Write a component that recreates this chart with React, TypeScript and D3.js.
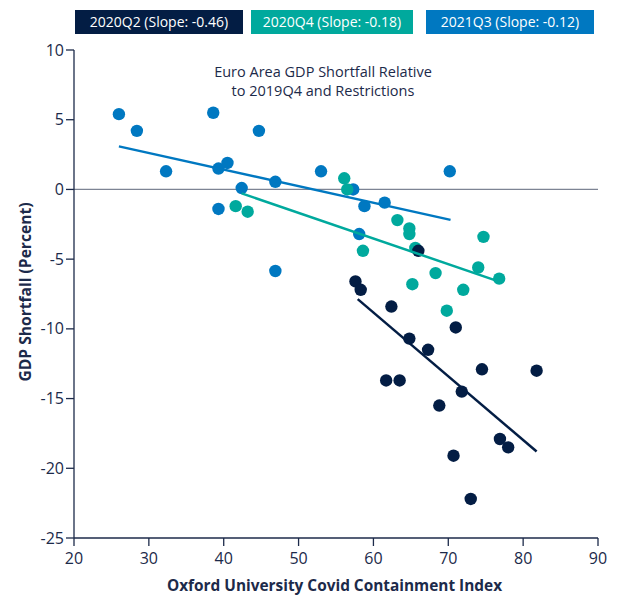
import React from "react";
import * as d3 from "d3";

const seriesNames = ["2020Q2", "2020Q4", "2021Q3"];
const seriesSlopes = [-0.46, -0.18, -0.12];
const seriesColors = ["#031d44", "#00a99d", "#0078c1"];

// 2020Q2 points [containment index, GDP shortfall]
const q2x = [57.6, 58.3, 66.0, 62.4, 71.0, 64.8, 67.3, 74.5, 81.8, 61.7, 63.5, 71.8, 68.8, 76.9, 78.0, 70.7, 73.0];
const q2y = [-6.6, -7.2, -4.4, -8.4, -9.9, -10.7, -11.5, -12.9, -13.0, -13.7, -13.7, -14.5, -15.5, -17.9, -18.5, -19.1, -22.2];
// 2020Q4
const q4x = [41.6, 43.2, 56.1, 56.5, 63.2, 64.8, 64.8, 58.6, 74.7, 65.6, 68.3, 74.0, 76.8, 65.2, 72.0, 69.8];
const q4y = [-1.2, -1.6, 0.8, 0.0, -2.2, -2.8, -3.2, -4.4, -3.4, -4.2, -6.0, -5.6, -6.4, -6.8, -7.2, -8.7];
// 2021Q3
const q3x = [26.0, 28.4, 32.3, 38.6, 39.3, 40.5, 39.3, 42.4, 44.7, 46.9, 46.9, 53.0, 57.3, 58.8, 61.5, 58.1, 70.2];
const q3y = [5.4, 4.2, 1.3, 5.5, 1.5, 1.9, -1.4, 0.1, 4.2, 0.55, -5.85, 1.3, 0.0, -1.2, -0.95, -3.2, 1.3];

// fitted lines: intercept, slope, x range
const fitIntercepts = [18.59, 7.52, 6.18];
const fitSlopes = [-0.457, -0.184, -0.119];
const fitXMin = [57.9, 42.4, 26.0];
const fitXMax = [81.8, 76.8, 70.3];

const xTicks = [20, 30, 40, 50, 60, 70, 80, 90];
const yTicks = [10, 5, 0, -5, -10, -15, -20, -25];

const W = 619;
const H = 596;
const FONT = "'Open Sans', sans-serif";
const AXIS = "#1c2a4a";

export default function App() {
  const x = d3.scaleLinear().domain([20, 90]).range([74, 598]);
  const y = d3.scaleLinear().domain([-25, 10]).range([538, 50]);

  const pts = [
    q2x.map((v, i) => [v, q2y[i]]),
    q4x.map((v, i) => [v, q4y[i]]),
    q3x.map((v, i) => [v, q3y[i]]),
  ];
  const line = d3.line<number[]>().x((d) => x(d[0])).y((d) => y(d[1]));

  const legendX = [75, 251, 426];
  const legendW = [168, 162, 168];

  const order = [2, 1, 0];

  return (
    <div style={{ position: "absolute", left: 0, top: 0, width: W, height: H, overflow: "hidden" }}>
      <svg width={W} height={H} style={{ display: "block", fontFamily: FONT }}>
        <rect width={W} height={H} fill="#fff" />
        {/* legend */}
        {seriesNames.map((n, i) => (
          <g key={n}>
            <rect x={legendX[i]} y={10} width={legendW[i]} height={24} fill={seriesColors[i]} />
            <text x={legendX[i] + legendW[i] / 2} y={27} textAnchor="middle" fill="#fff" fontSize={14}>
              {`${n} (Slope: ${seriesSlopes[i].toFixed(2)})`}
            </text>
          </g>
        ))}
        {/* title */}
        <text x={323} y={77} textAnchor="middle" fontSize={14.5} fill={AXIS}>
          Euro Area GDP Shortfall Relative
        </text>
        <text x={323} y={96} textAnchor="middle" fontSize={14.5} fill={AXIS}>
          to 2019Q4 and Restrictions
        </text>
        {/* zero line */}
        <line x1={x(20)} x2={x(90)} y1={y(0)} y2={y(0)} stroke="#7d8494" strokeWidth={1.3} />
        {/* axes */}
        <line x1={x(20)} x2={x(20)} y1={y(10)} y2={y(-25)} stroke={AXIS} strokeWidth={1.3} />
        <line x1={x(20)} x2={x(90)} y1={y(-25)} y2={y(-25)} stroke={AXIS} strokeWidth={1.3} />
        {yTicks.map((t) => (
          <g key={t}>
            <line x1={x(20) - 8} x2={x(20)} y1={y(t)} y2={y(t)} stroke={AXIS} strokeWidth={1.3} />
            <text x={x(20) - 10} y={y(t) + 5.5} textAnchor="end" fontSize={16} fill={AXIS}>
              {t}
            </text>
          </g>
        ))}
        {xTicks.map((t) => (
          <g key={t}>
            <line x1={x(t)} x2={x(t)} y1={y(-25)} y2={y(-25) + 8} stroke={AXIS} strokeWidth={1.3} />
            <text x={x(t)} y={y(-25) + 26} textAnchor="middle" fontSize={16} fill={AXIS}>
              {t}
            </text>
          </g>
        ))}
        <text x={334.5} y={591} textAnchor="middle" fontSize={15.4} fontWeight="bold" fill={AXIS}>
          Oxford University Covid Containment Index
        </text>
        <text
          transform={`translate(31,${292}) rotate(-90)`}
          textAnchor="middle"
          fontSize={15.6}
          fontWeight="bold"
          fill={AXIS}
        >
          GDP Shortfall (Percent)
        </text>
        {/* points */}
        {order.map((s) => (
          <g key={s}>
            {pts[s].map((p, i) => (
              <circle key={i} cx={x(p[0])} cy={y(p[1])} r={6.2} fill={seriesColors[s]} />
            ))}
          </g>
        ))}
        {/* fit lines */}
        {order.map((s) => (
          <path
            key={"l" + s}
            d={
              line([
                [fitXMin[s], fitIntercepts[s] + fitSlopes[s] * fitXMin[s]],
                [fitXMax[s], fitIntercepts[s] + fitSlopes[s] * fitXMax[s]],
              ]) || ""
            }
            stroke={seriesColors[s]}
            strokeWidth={2.5}
            fill="none"
          />
        ))}
      </svg>
    </div>
  );
}
